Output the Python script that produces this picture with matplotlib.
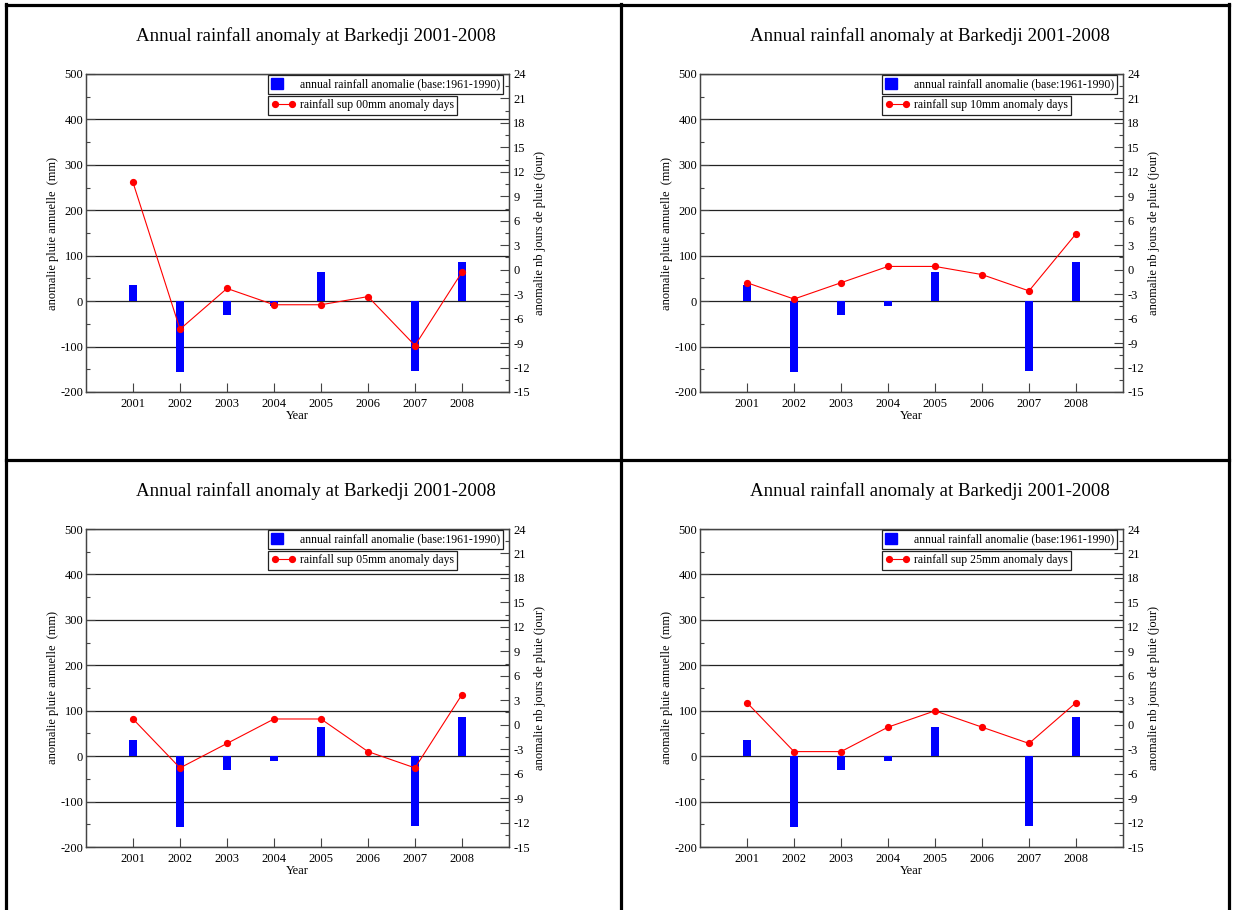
import matplotlib
matplotlib.use('Agg')
import matplotlib.pyplot as plt
from matplotlib.lines import Line2D
from matplotlib.patches import Patch
import numpy as np

plt.rcParams['font.family'] = ['Liberation Serif', 'DejaVu Serif']
plt.rcParams['axes.unicode_minus'] = False

years = [2001, 2002, 2003, 2004, 2005, 2006, 2007, 2008]
# annual rainfall anomaly (mm), same for all four panels
rain_anom = [36, -155, -30, -11, 65, 1, -153, 87]

# rainfall days anomaly for each threshold
days_00 = [10.7, -7.3, -2.3, -4.3, -4.3, -3.3, -9.3, -0.3]
days_10 = [-1.6, -3.6, -1.6, 0.4, 0.4, -0.6, -2.6, 4.4]
days_05 = [0.7, -5.3, -2.3, 0.7, 0.7, -3.3, -5.3, 3.7]
days_25 = [2.7, -3.3, -3.3, -0.3, 1.7, -0.3, -2.3, 2.7]

thresholds = ['00', '10', '05', '25']
series = [days_00, days_10, days_05, days_25]

title = 'Annual rainfall anomaly at Barkedji 2001-2008'
bar_label = 'annual rainfall anomalie (base:1961-1990)'

W, H = 1235, 910
fig = plt.figure(figsize=(W / 100, H / 100), dpi=100, facecolor='w')

# panel layout in pixels: (axes left, axes top, title x, title y)
panels = [(86, 74, 316, 36), (700, 74, 930, 36),
          (86, 529, 316, 491), (700, 529, 930, 491)]
aw, ah = 423, 318

for (px, py, tx, ty), thr, days in zip(panels, thresholds, series):
    ax = fig.add_axes([px / W, 1 - (py + ah) / H, aw / W, ah / H])
    ax.bar(years, rain_anom, width=0.19, color='#0000ff', zorder=3)
    ax.set_xlim(2000, 2009)
    ax.set_ylim(-200, 500)
    ax.set_xticks(years)
    ax.set_yticks(np.arange(-200, 501, 100))
    ax.set_yticks(np.arange(-150, 500, 100), minor=True)
    ax.yaxis.grid(True, color='#222222', lw=0.9)
    ax.set_axisbelow(True)
    ax.tick_params(direction='in', labelsize=9, pad=2, length=6.5, width=0.8, color='#444444')
    ax.tick_params(which='minor', direction='in', length=3, width=0.8, color='#444444')
    ax.tick_params(axis='x', pad=4)
    ax.set_xlabel('Year', fontsize=9, labelpad=0)
    ax.set_ylabel('anomalie pluie annuelle  (mm)', fontsize=9, labelpad=1)
    for s in ax.spines.values():
        s.set_color('#444444')
        s.set_linewidth(0.9)

    ax2 = ax.twinx()
    ax2.plot(years, days, color='#ff0000', lw=0.8, marker='o', ms=4.2, zorder=4)
    ax2.set_ylim(-15, 24)
    ax2.set_yticks(np.arange(-15, 25, 3))
    ax2.set_yticks(np.arange(-13.5, 24, 3), minor=True)
    ax2.tick_params(direction='in', labelsize=9, pad=3, length=6.5, width=0.8, color='#444444')
    ax2.tick_params(which='minor', direction='in', length=3, width=0.8, color='#444444')
    ax2.set_ylabel('anomalie nb jours de pluie (jour)', fontsize=9, labelpad=3)
    for s in ax2.spines.values():
        s.set_color('#444444')
        s.set_linewidth(0.9)

    leg1 = ax2.legend([Patch(color='#0000ff')], [bar_label], loc='upper left',
                      bbox_to_anchor=(0.43, 0.998), fontsize=8.5, fancybox=False,
                      edgecolor='#222222', framealpha=1, handlelength=1.0,
                      handleheight=1.0, borderpad=0.3, borderaxespad=0,
                      handletextpad=1.4)
    leg1.get_frame().set_linewidth(0.9)
    ax2.add_artist(leg1)
    leg2 = ax2.legend([Line2D([], [], color='#ff0000', lw=0.8, marker='o', ms=4.2)],
                      ['rainfall sup %smm anomaly days' % thr], loc='upper left',
                      bbox_to_anchor=(0.43, 0.931), fontsize=8.5, fancybox=False,
                      edgecolor='#222222', framealpha=1, numpoints=2,
                      handlelength=2.0, borderpad=0.3, borderaxespad=0,
                      handletextpad=0.4)
    leg2.get_frame().set_linewidth(0.9)

    fig.text(tx / W, 1 - ty / H, title, ha='center', va='center', fontsize=13.6)

# table borders around the four panels
bw = 2.3
fig.add_artist(Line2D([6 / W, 6 / W], [0, 1 - 4 / H], color='k', lw=bw))
fig.add_artist(Line2D([1229 / W, 1229 / W], [0, 1 - 4 / H], color='k', lw=bw))
fig.add_artist(Line2D([621 / W, 621 / W], [0, 1 - 4 / H], color='k', lw=bw))
fig.add_artist(Line2D([6 / W, 1229 / W], [1 - 5 / H, 1 - 5 / H], color='k', lw=bw))
fig.add_artist(Line2D([6 / W, 1229 / W], [1 - 460 / H, 1 - 460 / H], color='k', lw=bw))

plt.savefig('out.png', dpi=100)
